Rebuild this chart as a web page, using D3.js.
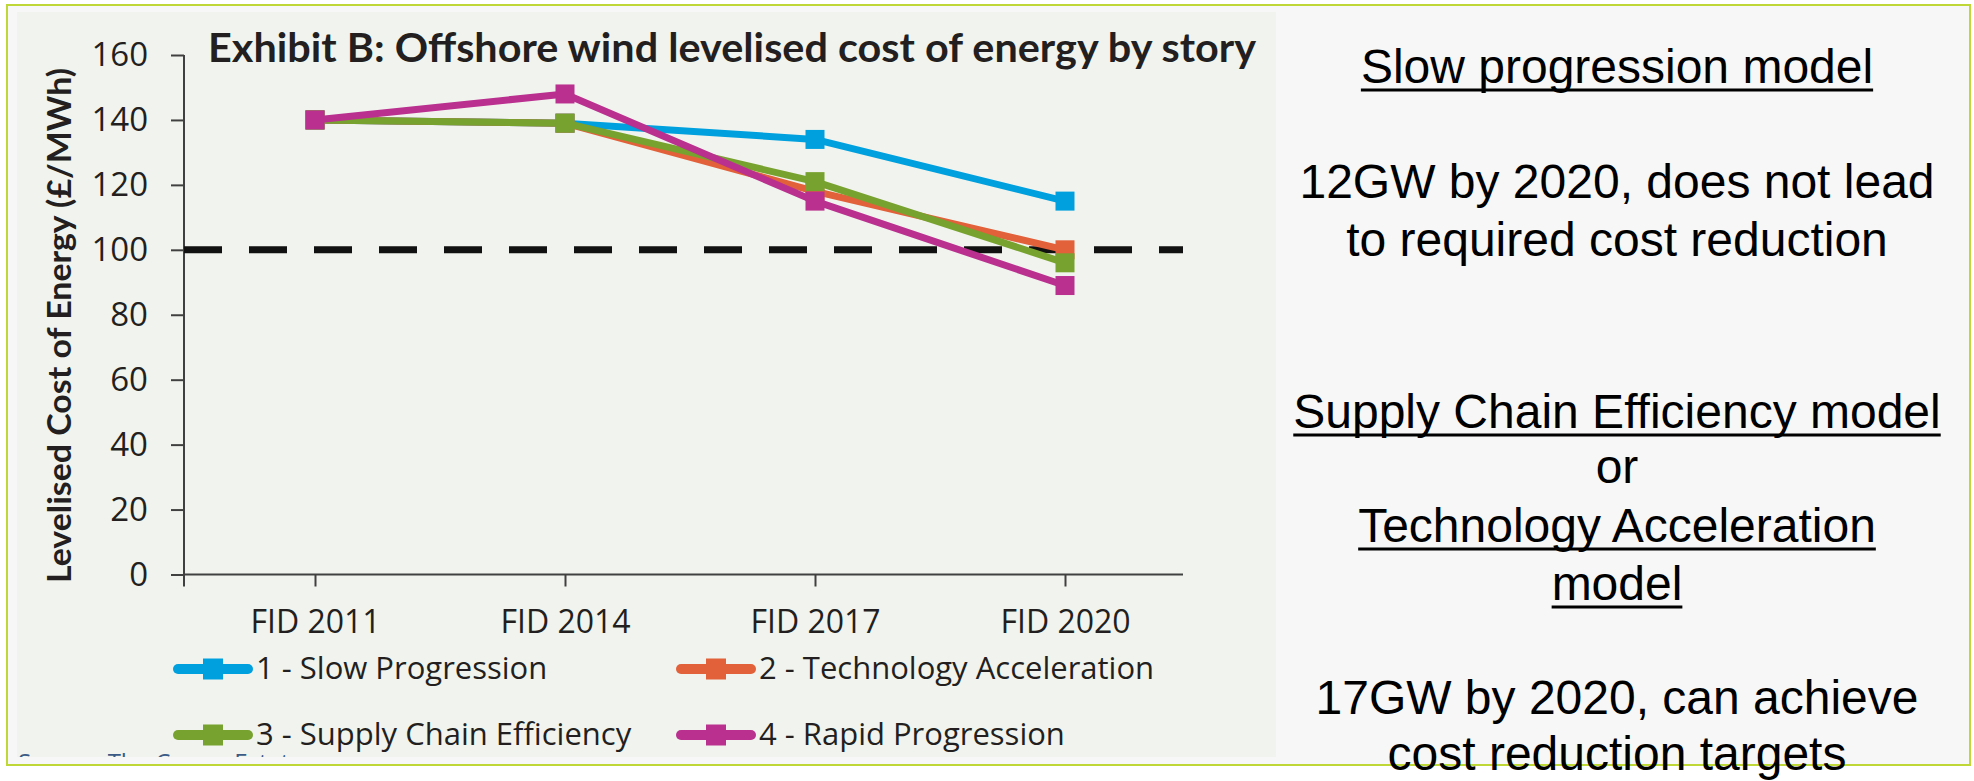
<!DOCTYPE html>
<html>
<head>
<meta charset="utf-8">
<script src="https://cdn.jsdelivr.net/npm/d3@7"></script>
<style>
  html, body { margin: 0; padding: 0; background: #ffffff; }
  svg { display: block; }
</style>
</head>
<body>
<svg id="chart" width="1974" height="781"></svg>
<script>
var categories = ["FID 2011", "FID 2014", "FID 2017", "FID 2020"];
var slowProgression = [140, 139, 134, 115];
var technologyAcceleration = [140, 139, 118, 100];
var supplyChainEfficiency = [140, 139, 121, 96];
var rapidProgression = [140, 148, 115, 89];
var seriesNames = ["1 - Slow Progression", "2 - Technology Acceleration", "3 - Supply Chain Efficiency", "4 - Rapid Progression"];
var seriesColors = ["#00a0de", "#e2603a", "#78a22f", "#b9308f"];
var yTicks = [0, 20, 40, 60, 80, 100, 120, 140, 160];
var targetCost = 100;
var chartTitle = "Exhibit B: Offshore wind levelised cost of energy by story";
var yTitle = "Levelised Cost of Energy (\u00a3/MWh)";
var sourceNote = "Source: The Crown Estate";
var noteLines = ["Slow progression model", "12GW by 2020, does not lead", "to required cost reduction",
  "Supply Chain Efficiency model", "or", "Technology Acceleration", "model",
  "17GW by 2020, can achieve", "cost reduction targets"];
var noteUnderlined = [true, false, false, true, false, true, true, false, false];

var svg = d3.select("#chart");
var titleFont = "Lato, 'Open Sans', sans-serif";
var labelFont = "'Open Sans', Lato, sans-serif";

// frame and panels
svg.append("rect").attr("x", 7).attr("y", 5).attr("width", 1963).attr("height", 760)
  .attr("fill", "#f7f7f7").attr("stroke", "#bfd838").attr("stroke-width", 2);
svg.append("rect").attr("x", 17).attr("y", 12).attr("width", 1259).attr("height", 745)
  .attr("fill", "#f1f4ee");

var clip = svg.append("clipPath").attr("id", "panelClip");
clip.append("rect").attr("x", 17).attr("y", 12).attr("width", 1259).attr("height", 745);

var x = d3.scalePoint().domain(categories).range([315, 1065]);
var y = d3.scaleLinear().domain([0, 160]).range([574.5, 55]);
var axisLeftX = 184, axisRightX = 1183;

// y axis
var yAxis = svg.append("g").attr("transform", "translate(" + axisLeftX + ",0)")
  .call(d3.axisLeft(y).tickValues(yTicks).tickSize(13).tickSizeOuter(0).tickPadding(23));
yAxis.select(".domain").remove();
yAxis.append("line").attr("x1", 0).attr("x2", 0).attr("y1", y(160)).attr("y2", y(0) + 12)
  .attr("stroke", "#404040").attr("stroke-width", 2);
yAxis.selectAll(".tick line").attr("stroke", "#404040").attr("stroke-width", 2);
yAxis.selectAll(".tick text").attr("font-family", labelFont).attr("font-size", 33)
  .attr("fill", "#231f20");

// x axis
var xAxis = svg.append("g").attr("transform", "translate(0," + y(0) + ")")
  .call(d3.axisBottom(x).tickSize(12).tickSizeOuter(0).tickPadding(24));
xAxis.select(".domain").remove();
xAxis.append("line").attr("x1", axisLeftX).attr("x2", axisRightX).attr("y1", 0).attr("y2", 0)
  .attr("stroke", "#404040").attr("stroke-width", 2);
xAxis.selectAll(".tick line").attr("stroke", "#404040").attr("stroke-width", 2);
xAxis.selectAll(".tick text").attr("font-family", labelFont).attr("font-size", 32)
  .attr("fill", "#231f20");

// titles
svg.append("text").attr("x", 208).attr("y", 62).text(chartTitle)
  .attr("font-family", titleFont).attr("font-weight", "bold").attr("font-size", 40)
  .attr("fill", "#231f20").attr("textLength", 1048).attr("lengthAdjust", "spacingAndGlyphs");
svg.append("text").attr("transform", "translate(71," + ((68 + 583) / 2) + ") rotate(-90)")
  .attr("text-anchor", "middle").text(yTitle)
  .attr("font-family", titleFont).attr("font-weight", "bold").attr("font-size", 32)
  .attr("fill", "#231f20").attr("textLength", 515).attr("lengthAdjust", "spacingAndGlyphs");

// target line
svg.append("line").attr("x1", axisLeftX).attr("x2", axisRightX)
  .attr("y1", y(targetCost)).attr("y2", y(targetCost))
  .attr("stroke", "#111111").attr("stroke-width", 7).attr("stroke-dasharray", "38,27");

// series
var series = [slowProgression, technologyAcceleration, supplyChainEfficiency, rapidProgression];
var line = d3.line().x(function (d, i) { return x(categories[i]); }).y(function (d) { return y(d); });
var mk = 19;
series.forEach(function (values, s) {
  var g = svg.append("g");
  g.append("path").attr("d", line(values)).attr("fill", "none")
    .attr("stroke", seriesColors[s]).attr("stroke-width", 7).attr("stroke-linejoin", "round");
  g.selectAll("rect").data(values).enter().append("rect")
    .attr("x", function (d, i) { return x(categories[i]) - mk / 2; })
    .attr("y", function (d) { return y(d) - mk / 2; })
    .attr("width", mk).attr("height", mk).attr("fill", seriesColors[s]);
});

// legend
var legendCols = [173, 676], legendRows = [669, 735];
seriesNames.forEach(function (name, i) {
  var lx = legendCols[i % 2], ly = legendRows[Math.floor(i / 2)];
  var g = svg.append("g").attr("transform", "translate(" + lx + "," + ly + ")");
  g.append("line").attr("x1", 5).attr("x2", 75).attr("y1", 0).attr("y2", 0)
    .attr("stroke", seriesColors[i]).attr("stroke-width", 10).attr("stroke-linecap", "round");
  g.append("rect").attr("x", 30).attr("y", -10.5).attr("width", 20).attr("height", 21)
    .attr("fill", seriesColors[i]);
  g.append("text").attr("x", 83).attr("y", 10).text(name)
    .attr("font-family", labelFont).attr("font-size", 31).attr("fill", "#231f20");
});

// source note, cut off by the panel edge
svg.append("text").attr("x", 18).attr("y", 771).text(sourceNote)
  .attr("clip-path", "url(#panelClip)")
  .attr("font-family", labelFont).attr("font-size", 24).attr("fill", "#3b5b86");

// notes on the right
var noteBaselines = [83, 198, 256, 428, 483, 542, 600, 714, 770];
var noteX = 1617;
noteLines.forEach(function (t, i) {
  var tx = svg.append("text").attr("x", noteX).attr("y", noteBaselines[i])
    .attr("text-anchor", "middle").text(t)
    .attr("font-family", "'Liberation Sans', Arial, sans-serif").attr("font-size", 48)
    .attr("fill", "#000000");
  if (noteUnderlined[i]) {
    var w = tx.node().getComputedTextLength();
    svg.append("line").attr("x1", noteX - w / 2).attr("x2", noteX + w / 2)
      .attr("y1", noteBaselines[i] + 7).attr("y2", noteBaselines[i] + 7)
      .attr("stroke", "#000000").attr("stroke-width", 3);
  }
});
</script>
</body>
</html>
